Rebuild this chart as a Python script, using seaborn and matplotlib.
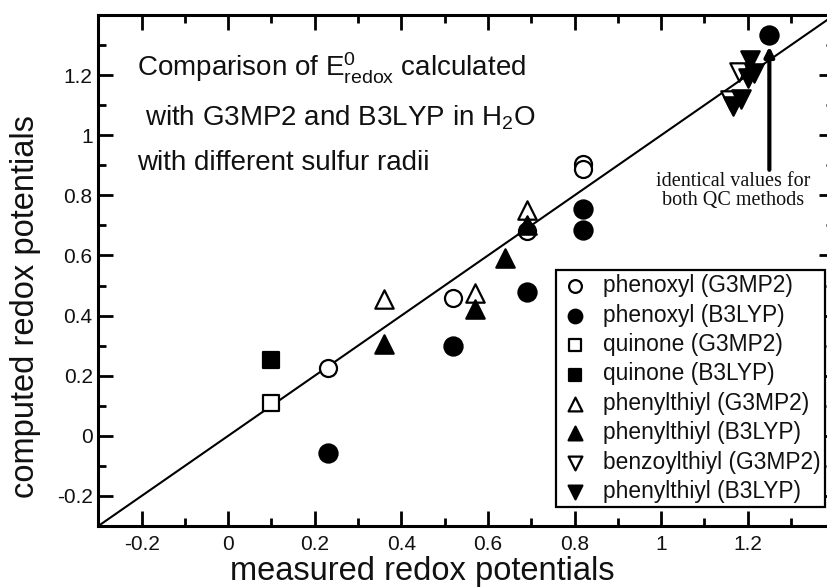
import matplotlib
matplotlib.use("Agg")
import matplotlib.pyplot as plt
import seaborn as sns
from matplotlib.ticker import MultipleLocator, FuncFormatter

sns.set_theme(style="ticks")
plt.rcParams["font.family"] = ["Liberation Sans", "DejaVu Sans"]
plt.rcParams["mathtext.fontset"] = "custom"
plt.rcParams["mathtext.rm"] = "Liberation Sans"
plt.rcParams["mathtext.it"] = "Liberation Sans"
plt.rcParams["mathtext.default"] = "regular"
plt.rcParams["axes.unicode_minus"] = False

# measured (x) vs computed (y) redox potentials, one pair of lists per series
phenoxyl_g3mp2_x = [0.23, 0.52, 0.69, 0.82, 0.82, 1.25]
phenoxyl_g3mp2_y = [0.225, 0.46, 0.68, 0.905, 0.888, 1.335]
phenoxyl_b3lyp_x = [0.23, 0.52, 0.69, 0.82, 0.82, 1.25]
phenoxyl_b3lyp_y = [-0.058, 0.30, 0.478, 0.755, 0.686, 1.335]
quinone_g3mp2_x = [0.10]
quinone_g3mp2_y = [0.108]
quinone_b3lyp_x = [0.10]
quinone_b3lyp_y = [0.251]
phenylthiyl_g3mp2_x = [0.36, 0.57, 0.69]
phenylthiyl_g3mp2_y = [0.456, 0.476, 0.752]
phenylthiyl_b3lyp_x = [0.36, 0.57, 0.64, 0.69]
phenylthiyl_b3lyp_y = [0.305, 0.421, 0.593, 0.70]
benzoylthiyl_g3mp2_x = [1.18, 1.16]
benzoylthiyl_g3mp2_y = [1.21, 1.118]
benzoylthiyl_b3lyp_x = [1.205, 1.20, 1.215, 1.165, 1.185]
benzoylthiyl_b3lyp_y = [1.25, 1.19, 1.208, 1.097, 1.12]

labels = [
    "phenoxyl (G3MP2)", "phenoxyl (B3LYP)",
    "quinone (G3MP2)", "quinone (B3LYP)",
    "phenylthiyl (G3MP2)", "phenylthiyl (B3LYP)",
    "benzoylthiyl (G3MP2)", "phenylthiyl (B3LYP)",
]
series_x = [phenoxyl_g3mp2_x, phenoxyl_b3lyp_x, quinone_g3mp2_x, quinone_b3lyp_x,
            phenylthiyl_g3mp2_x, phenylthiyl_b3lyp_x, benzoylthiyl_g3mp2_x, benzoylthiyl_b3lyp_x]
series_y = [phenoxyl_g3mp2_y, phenoxyl_b3lyp_y, quinone_g3mp2_y, quinone_b3lyp_y,
            phenylthiyl_g3mp2_y, phenylthiyl_b3lyp_y, benzoylthiyl_g3mp2_y, benzoylthiyl_b3lyp_y]

# marker shape, face colour and area for each series
styles = [
    ("o", "white", 150), ("o", "black", 170),
    ("s", "white", 130), ("s", "black", 140),
    ("^", "white", 175), ("^", "black", 175),
    ("v", "white", 175), ("v", "black", 175),
]

W, H = 827, 588
fig = plt.figure(figsize=(W / 100, H / 100), dpi=100)
ax = fig.add_axes([98.3 / W, 62 / H, 736 / W, 511 / H])
ax.set_facecolor("white")

# diagonal of perfect agreement
ax.axline((0, 0), slope=1, color="black", lw=1.5, zorder=1)

for x, y, lab, (mk, fc, s) in zip(series_x, series_y, labels, styles):
    sns.scatterplot(x=x, y=y, ax=ax, marker=mk, color=fc, edgecolor="black",
                    linewidth=1.6, s=s, label=lab, zorder=3)

ax.set_xlim(-0.3, 1.4)
ax.set_ylim(-0.3, 1.4)

ax.xaxis.set_major_locator(MultipleLocator(0.2))
ax.xaxis.set_minor_locator(MultipleLocator(0.1))
ax.yaxis.set_major_locator(MultipleLocator(0.2))
ax.yaxis.set_minor_locator(MultipleLocator(0.1))


def tick_text(v, pos):
    if v > 1.3:
        return ""
    return f"{v:g}" if abs(v) > 1e-9 else "0"


ax.xaxis.set_major_formatter(FuncFormatter(tick_text))
ax.yaxis.set_major_formatter(FuncFormatter(tick_text))
ax.tick_params(which="both", direction="in", top=True, right=True, width=2.0,
               color="black", labelsize=15, labelcolor="#111111", pad=4)
ax.tick_params(axis="x", which="major", pad=6.5)
ax.tick_params(which="major", length=10.5)
ax.tick_params(which="minor", length=5.5)
for sp in ax.spines.values():
    sp.set_linewidth(2.2)
    sp.set_color("black")

ax.set_xlabel("measured redox potentials", fontsize=23.5, color="#111111")
ax.set_ylabel("computed redox potentials", fontsize=23.5, color="#111111")
ax.xaxis.set_label_coords(0.44, -0.058)
ax.yaxis.set_label_coords(-0.078, 0.43)

# note on the coinciding phenoxyl point
ax.annotate("", xy=(1.25, 1.295), xytext=(1.25, 0.885),
            arrowprops=dict(arrowstyle="-|>", lw=3.0, color="black",
                            mutation_scale=14, shrinkA=0, shrinkB=0), zorder=2)
ax.text(1.166, 0.815, "identical values for\nboth QC methods", ha="center",
        va="center", family="Liberation Serif", fontsize=14.5, linespacing=1.0,
        color="#111111")


def px(x, y):
    return x / W, 1 - y / H


title_kw = dict(fontsize=20, color="#111111", va="baseline", ha="left")
fig.text(*px(137, 77), r"Comparison of E$^0_{redox}$ calculated", **title_kw)
fig.text(*px(145, 125), r"with G3MP2 and B3LYP in H$_2$O", **title_kw)
fig.text(*px(137, 170), "with different sulfur radii", **title_kw)

leg = ax.legend(loc="lower right", bbox_to_anchor=(0.987, 0.037), frameon=True,
                fancybox=False, edgecolor="black", framealpha=1, fontsize=16.4,
                markerscale=0.75, handletextpad=0.6, labelspacing=0.28,
                borderpad=0.18, handlelength=1.3, borderaxespad=0)
leg.get_frame().set_linewidth(1.6)
for t in leg.get_texts():
    t.set_color("#111111")

fig.savefig("out.png", dpi=100, facecolor="white")
